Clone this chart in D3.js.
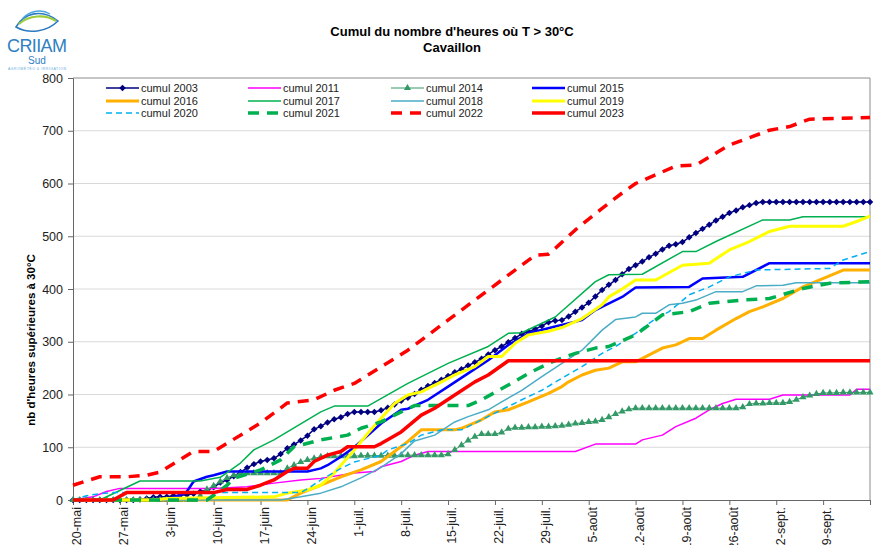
<!DOCTYPE html>
<html>
<head>
<meta charset="utf-8">
<script src="https://cdn.jsdelivr.net/npm/d3@7"></script>
<style>
  body { margin: 0; background: #fff; }
  svg { display: block; font-family: Arial, "Liberation Sans", sans-serif; }
</style>
</head>
<body>
<div id="chart"></div>
<script>
// day 0 = 20-mai, one value per day (series drawn with markers)
var cumul2003 = [
  0,0,0,0,0,0,0,0,0,0,
  1,3,5,6,6,8,9,10,12,16,
  18,24,33,38,45,53,61,68,73,76,
  79,87,98,105,113,122,134,140,147,153,
  157,163,167,167,167,167,170,175,181,188,
  194,201,209,216,222,228,235,242,248,255,
  261,268,276,284,291,299,307,315,319,324,
  330,337,340,341,348,357,365,374,386,398,
  408,417,428,438,445,452,460,467,475,482,
  485,489,498,506,514,522,530,537,544,549,
  555,559,563,565,565,565,565,565,565,565,
  565,565,565,565,565,565,565,565,565,565
];
var cumul2014 = [
  0,0,0,0,0,0,0,0,0,0,
  0,0,0,0,0,0,0,0,0,8,
  20,27,35,42,47,50,51,51,51,51,
  51,51,60,66,72,76,79,82,83,83,
  83,83,83,84,84,84,84,84,84,85,
  85,85,85,85,85,85,87,95,104,113,
  120,125,125,125,128,135,137,137,138,138,
  139,139,140,141,143,145,146,148,149,152,
  157,163,168,172,174,174,174,174,174,174,
  174,174,174,174,174,174,174,174,174,174,
  176,182,183,183,184,184,184,186,190,195,
  198,201,203,203,203,204,204,204,204,204
];

// [day, value] break points (lines without markers)
var cumul2011 = [[0,0],[3,6],[5,16],[7,22],[21,22],[26,25],[30,32],[34,38],[37,41],[42,51],[45,54],[46,63],[49,73],[51,85],[53,92],[75,92],[78,106],[84,106],[85,114],[88,123],[90,139],[93,155],[95,171],[97,183],[99,191],[104,191],[106,199],[116,199],[117,210],[119,210]];
var cumul2015 = [[0,0],[14,0],[16,9],[17,16],[18,35],[20,44],[21,47],[23,54],[35,54],[37,60],[38,66],[40,82],[42,100],[46,145],[49,171],[50,173],[53,190],[56,215],[59,240],[62,265],[65,294],[68,316],[72,329],[76,341],[78,360],[82,385],[84,403],[92,404],[94,420],[100,423],[104,449],[119,449]];
var cumul2016 = [[0,0],[32,0],[34,13],[37,28],[40,44],[43,57],[46,73],[48,92],[50,111],[52,133],[57,133],[58,136],[61,152],[63,167],[65,171],[68,186],[71,202],[73,215],[74,224],[76,237],[78,246],[80,250],[82,262],[84,262],[88,288],[90,294],[92,306],[94,306],[96,322],[99,344],[101,357],[103,366],[106,382],[109,404],[115,436],[119,436]];
var cumul2017 = [[0,0],[4,0],[10,36],[19,36],[22,43],[25,70],[27,95],[30,114],[32,129],[35,152],[37,167],[39,178],[44,178],[50,221],[56,259],[62,291],[65,316],[67,317],[72,347],[78,414],[80,427],[85,428],[91,471],[93,471],[96,490],[103,531],[107,531],[109,537],[119,537]];
var cumul2018 = [[0,0],[31,0],[34,6],[37,13],[40,25],[43,42],[46,62],[49,88],[51,112],[54,123],[57,148],[59,158],[62,171],[64,186],[67,208],[70,234],[73,259],[76,284],[79,322],[81,342],[84,347],[85,354],[87,354],[89,370],[91,373],[93,379],[96,395],[100,395],[102,406],[106,407],[108,412],[119,412]];
var cumul2019 = [[0,0],[12,0],[14,3],[30,6],[32,13],[35,19],[37,28],[39,51],[42,95],[44,126],[46,155],[48,183],[50,199],[52,205],[55,224],[57,237],[60,253],[62,272],[64,272],[66,297],[68,313],[71,320],[73,327],[76,344],[79,370],[80,385],[82,400],[84,417],[87,417],[91,445],[95,449],[98,474],[101,490],[104,509],[107,519],[115,519],[117,528],[119,538]];
var cumul2020 = [[0,0],[2,8],[4,12],[6,14],[34,14],[35,21],[37,38],[40,60],[42,72],[46,85],[47,95],[50,107],[52,123],[55,133],[58,133],[61,152],[64,171],[67,190],[70,208],[73,231],[76,253],[79,278],[81,291],[84,316],[87,344],[89,357],[92,389],[95,404],[98,423],[102,436],[113,439],[115,455],[119,471]];
var cumul2021 = [[0,0],[20,0],[21,9],[23,28],[24,41],[28,57],[31,76],[33,101],[37,114],[41,123],[43,136],[46,148],[49,167],[51,179],[59,179],[61,190],[65,218],[68,240],[71,259],[73,269],[75,278],[78,288],[80,291],[84,313],[88,351],[92,357],[95,373],[100,379],[104,382],[109,401],[113,411],[119,414]];
var cumul2022 = [[0,28],[4,44],[8,44],[11,47],[13,53],[18,92],[21,92],[28,146],[32,184],[36,190],[39,208],[42,221],[50,284],[62,398],[69,464],[71,466],[72,477],[75,512],[79,553],[82,582],[84,600],[90,633],[93,635],[98,673],[104,701],[107,708],[110,722],[119,725]];
var cumul2023 = [[0,0],[6,0],[8,14],[21,14],[23,20],[26,20],[28,28],[30,38],[32,54],[33,60],[35,60],[36,73],[38,85],[40,92],[41,101],[45,101],[46,107],[49,129],[52,161],[54,174],[57,199],[60,224],[62,237],[65,264],[119,264]];

var tickLabels = ["20-mai","27-mai","3-juin","10-juin","17-juin","24-juin","1-juil.","8-juil.","15-juil.","22-juil.","29-juil.","5-août","12-août","19-août","26-août","2-sept.","9-sept."];
var yTicks = [0,100,200,300,400,500,600,700,800];

var W = 892, H = 545;
var plot = {left: 73, right: 870, top: 78, bottom: 500};
var start = new Date(2023, 4, 20);

var x = d3.scaleTime()
  .domain([start, d3.timeDay.offset(start, 119)])
  .range([plot.left, plot.right]);
var y = d3.scaleLinear().domain([0, 800]).range([plot.bottom, plot.top]);

function dayDate(d) { return d3.timeDay.offset(start, d); }

var series = [
  {name: "cumul 2003", daily: cumul2003, color: "#000080", width: 1.5, marker: "diamond"},
  {name: "cumul 2011", pts: cumul2011, color: "#ff00ff", width: 1.5},
  {name: "cumul 2014", daily: cumul2014, color: "#339966", width: 1, marker: "triangle"},
  {name: "cumul 2015", pts: cumul2015, color: "#0000ff", width: 2.5},
  {name: "cumul 2016", pts: cumul2016, color: "#ffb000", width: 3},
  {name: "cumul 2017", pts: cumul2017, color: "#00b050", width: 1.5},
  {name: "cumul 2018", pts: cumul2018, color: "#4bacc6", width: 1.5},
  {name: "cumul 2019", pts: cumul2019, color: "#ffff00", width: 3},
  {name: "cumul 2020", pts: cumul2020, color: "#00b0f0", width: 1.5, dash: "6,4"},
  {name: "cumul 2021", pts: cumul2021, color: "#00b050", width: 3.5, dash: "11,8"},
  {name: "cumul 2022", pts: cumul2022, color: "#ff0000", width: 3.5, dash: "11,8"},
  {name: "cumul 2023", pts: cumul2023, color: "#ff0000", width: 3.5}
];
// legend order: 4 columns, row by row
var legendOrder = ["cumul 2003","cumul 2011","cumul 2014","cumul 2015",
                   "cumul 2016","cumul 2017","cumul 2018","cumul 2019",
                   "cumul 2020","cumul 2021","cumul 2022","cumul 2023"];

var svg = d3.select("#chart").append("svg")
  .attr("width", W).attr("height", H);

draw_logo();
draw_axes();
draw_lines();
draw_legend();

// diamond = square turned 45deg (Excel style), triangle as is
function marker_symbol(kind) {
  return d3.symbol()
    .type(kind == "diamond" ? d3.symbolSquare : d3.symbolTriangle)
    .size(kind == "diamond" ? 21 : 22);
}
function marker_transform(kind, px, py) {
  return "translate(" + px + "," + py + ")" + (kind == "diamond" ? " rotate(45)" : "");
}

function draw_logo() {
  var g = svg.append("g");
  g.append("path")
    .attr("d", "M16,27 C24,13 42,8 58,21 C48,31 30,35 16,27 Z")
    .attr("fill", "none").attr("stroke", "#2b7bc3").attr("stroke-width", 1.6);
  g.append("path")
    .attr("d", "M19,24 C29,15 45,14 56,21")
    .attr("fill", "none").attr("stroke", "#9ccb3b").attr("stroke-width", 2.2);
  g.append("path")
    .attr("d", "M22,19 C30,10 42,9 50,14")
    .attr("fill", "none").attr("stroke", "#4aa3df").attr("stroke-width", 1.4);
  g.append("text").attr("x", 37).attr("y", 52)
    .attr("text-anchor", "middle").attr("font-size", 18)
    .attr("textLength", 60).attr("fill", "#2f7fc2").text("CRIIAM");
  g.append("text").attr("x", 37).attr("y", 64)
    .attr("text-anchor", "middle").attr("font-size", 10)
    .attr("fill", "#2f7fc2").text("Sud");
  g.append("text").attr("x", 37).attr("y", 70)
    .attr("text-anchor", "middle").attr("font-size", 3.5)
    .attr("textLength", 58).attr("fill", "#6aaee0").text("AGROMÉTÉO & IRRIGATION");
}

function draw_axes() {
  // title
  svg.append("text").attr("x", 452).attr("y", 36)
    .attr("text-anchor", "middle").attr("font-size", 13).attr("font-weight", "bold")
    .text("Cumul du nombre d'heures où T > 30°C");
  svg.append("text").attr("x", 452).attr("y", 52)
    .attr("text-anchor", "middle").attr("font-size", 13).attr("font-weight", "bold")
    .text("Cavaillon");

  // grid
  svg.append("g").selectAll("line")
    .data(yTicks.filter(function(d){ return d > 0 && d < 800; }))
    .join("line")
      .attr("x1", plot.left).attr("x2", plot.right)
      .attr("y1", d => y(d)).attr("y2", d => y(d))
      .attr("stroke", "#d9d9d9").attr("stroke-width", 1);

  // plot frame (top, right)
  svg.append("path")
    .attr("d", "M" + plot.left + "," + plot.top + "H" + plot.right + "V" + plot.bottom)
    .attr("fill", "none").attr("stroke", "#8c8c8c").attr("stroke-width", 1);

  var yAxis = svg.append("g")
    .attr("transform", "translate(" + plot.left + ",0)")
    .call(d3.axisLeft(y).tickValues(yTicks).tickSize(5).tickPadding(5));
  yAxis.select(".domain").attr("stroke", "#666");
  yAxis.selectAll(".tick line").attr("stroke", "#666");
  yAxis.selectAll("text").attr("font-size", 12.5).attr("fill", "#222")
    .attr("font-family", "Arial, 'Liberation Sans', sans-serif");

  var tickDates = tickLabels.map(function(t, i){ return dayDate(i * 7); });
  var xAxis = svg.append("g")
    .attr("transform", "translate(0," + plot.bottom + ")")
    .call(d3.axisBottom(x).tickValues(tickDates.concat([dayDate(119)]))
      .tickSize(5).tickFormat(""));
  xAxis.select(".domain").attr("stroke", "#666");
  xAxis.selectAll(".tick line").attr("stroke", "#666");

  // rotated date labels, running past the bottom edge like the original
  svg.append("g").selectAll("text")
    .data(tickLabels)
    .join("text")
      .attr("transform", function(d, i){ return "translate(" + (x(tickDates[i]) + 4) + "," + (plot.bottom + 7) + ") rotate(-90)"; })
      .attr("dy", "0.35em")
      .attr("text-anchor", "end")
      .attr("font-size", 12.5)
      .attr("fill", "#222")
      .text(d => d);

  svg.append("text")
    .attr("transform", "translate(31,340) rotate(-90)")
    .attr("text-anchor", "middle").attr("dy", "0.35em")
    .attr("font-size", 11.5).attr("font-weight", "bold")
    .text("nb d'heures supérieures à 30°C");
}

function draw_lines() {
  var line = d3.line().x(d => x(dayDate(d[0]))).y(d => y(d[1]));
  series.forEach(function(s) {
    var pts = s.daily ? s.daily.map(function(v, i){ return [i, v]; }) : s.pts;
    svg.append("path")
      .datum(pts)
      .attr("fill", "none")
      .attr("stroke", s.color)
      .attr("stroke-width", s.width)
      .attr("stroke-dasharray", s.dash || null)
      .attr("stroke-linejoin", "round")
      .attr("d", line);
    if (s.marker) {
      svg.append("g").selectAll("path")
        .data(pts)
        .join("path")
          .attr("transform", d => marker_transform(s.marker, x(dayDate(d[0])), y(d[1])))
          .attr("d", marker_symbol(s.marker))
          .attr("fill", s.color);
    }
  });
}

function draw_legend() {
  var colX = [106, 248, 391, 532];
  var rowY = [88, 101, 113];
  legendOrder.forEach(function(name, i) {
    var s = series.find(function(d){ return d.name == name; });
    var cx = colX[i % 4], cy = rowY[Math.floor(i / 4)];
    svg.append("line")
      .attr("x1", cx).attr("x2", cx + 33)
      .attr("y1", cy).attr("y2", cy)
      .attr("stroke", s.color)
      .attr("stroke-width", s.width)
      .attr("stroke-dasharray", s.dash || null);
    if (s.marker) {
      svg.append("path")
        .attr("transform", marker_transform(s.marker, cx + 16.5, cy))
        .attr("d", marker_symbol(s.marker))
        .attr("fill", s.color);
    }
    svg.append("text")
      .attr("x", cx + 35).attr("y", cy + 4)
      .attr("font-size", 11).attr("fill", "#222")
      .text(name);
  });
}
</script>
</body>
</html>
